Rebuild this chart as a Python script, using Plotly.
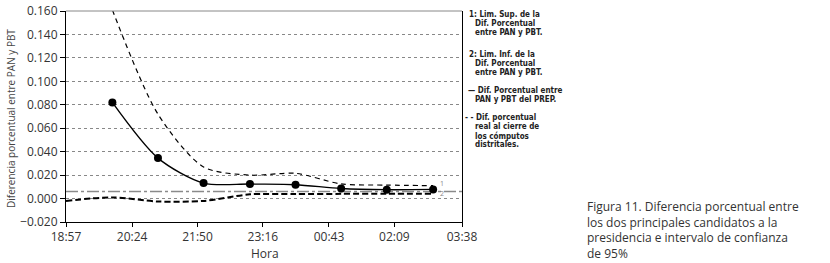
import plotly.graph_objects as go

# ---------------- data ----------------
prep_times = ["2006-07-02 19:58", "2006-07-02 20:58", "2006-07-02 21:58", "2006-07-02 22:59",
              "2006-07-02 23:59", "2006-07-03 00:59", "2006-07-03 01:59", "2006-07-03 03:00"]
prep_diff = [0.082, 0.0345, 0.0132, 0.0124, 0.0118, 0.0086, 0.0076, 0.0078]

upper_times = prep_times
upper_lim = [0.161, 0.072, 0.027, 0.020, 0.0215, 0.0125, 0.0115, 0.011]

lower_times = ["2006-07-02 18:57"] + prep_times
lower_lim = [-0.002, 0.001, -0.0025, -0.002, 0.0036, 0.0038, 0.0040, 0.0040, 0.0040]

real_diff = 0.006

x_ticks = ["2006-07-02 18:57", "2006-07-02 20:24", "2006-07-02 21:50", "2006-07-02 23:16",
           "2006-07-03 00:43", "2006-07-03 02:09", "2006-07-03 03:38"]
x_tick_text = ["18:57", "20:24", "21:50", "23:16", "00:43", "02:09", "03:38"]
y_ticks = [-0.02, 0.0, 0.02, 0.04, 0.06, 0.08, 0.10, 0.12, 0.14, 0.16]

legend_groups = [
    ["1: Lim. Sup. de la", "Dif. Porcentual", "entre PAN y PBT."],
    ["2: Lim. Inf. de la", "Dif. Porcentual", "entre PAN y PBT."],
    ["\u2014 Dif. Porcentual entre", "PAN y PBT del PREP."],
    ["- - Dif. porcentual", "real al cierre de", "los cómputos", "distritales."],
]
caption = ["Figura 11. Diferencia porcentual entre", "los dos principales candidatos a la",
           "presidencia e intervalo de confianza", "de 95%"]

# ---------------- layout geometry ----------------
W, H = 830, 263
L, R, T, B = 66, 368, 11, 41
PW, PH = W - L - R, H - T - B


def px(xp):
    return (xp - L) / PW


def py(yp):
    return (H - B - yp) / PH


FONT = "Open Sans, Lato, DejaVu Sans, sans-serif"
NARROW = "Liberation Sans Narrow, DejaVu Sans Condensed, Liberation Sans, sans-serif"

fig = go.Figure()

fig.add_trace(go.Scatter(
    x=[x_ticks[0], x_ticks[-1]], y=[real_diff, real_diff], mode="lines",
    line=dict(color="#8a8a8a", width=1.5, dash="12px,3px,3px,3px"),
    showlegend=False, hoverinfo="skip"))

fig.add_trace(go.Scatter(
    x=lower_times, y=lower_lim, mode="lines",
    line=dict(color="black", width=2, dash="6px,3px", shape="spline", smoothing=0.8),
    showlegend=False))

fig.add_trace(go.Scatter(
    x=upper_times, y=upper_lim, mode="lines",
    line=dict(color="black", width=1.2, dash="5px,4px", shape="spline", smoothing=0.8),
    showlegend=False))

fig.add_trace(go.Scatter(
    x=prep_times, y=prep_diff, mode="lines+markers",
    line=dict(color="black", width=1.4, shape="spline", smoothing=0.8),
    marker=dict(color="black", size=8),
    showlegend=False, cliponaxis=True))

annotations = []
# y-axis title
annotations.append(dict(
    text="Diferencia porcentual entre PAN y PBT", x=px(11), y=py(119), xref="paper", yref="paper",
    textangle=-90, showarrow=False, xanchor="center", yanchor="middle",
    font=dict(family=FONT, size=10, color="#444")))
# x-axis title
annotations.append(dict(
    text="Hora", x=px(265), y=py(253), xref="paper", yref="paper", showarrow=False,
    xanchor="center", yanchor="middle", font=dict(family=FONT, size=12, color="#333")))

# legend text on the right
line_y = [[14, 23.3, 32.3], [54, 63.3, 72.3], [90, 99.3], [117.3, 126.6, 135.6, 144.8]]
for gi, group in enumerate(legend_groups):
    for li, txt in enumerate(group):
        if li == 0:
            xs = 462.5 if gi == 3 else (466 if gi == 2 else 466.5)
        else:
            xs = 472.5
        annotations.append(dict(
            text="<b>" + txt + "</b>", x=px(xs), y=py(line_y[gi][li]), xref="paper", yref="paper",
            showarrow=False, xanchor="left", yanchor="middle",
            font=dict(family=NARROW, size=8, color="#222")))

# small labels 1 and 2
annotations.append(dict(text="1", x=px(442), y=py(183), xref="paper", yref="paper", showarrow=False,
                        xanchor="center", yanchor="middle", font=dict(family=FONT, size=7, color="#888")))
annotations.append(dict(text="2", x=px(442), y=py(193), xref="paper", yref="paper", showarrow=False,
                        xanchor="center", yanchor="middle", font=dict(family=FONT, size=7, color="#888")))

# caption as one multi-line text block
annotations.append(dict(
    text="<br>".join(caption), x=px(585), y=py(230), xref="paper", yref="paper", showarrow=False,
    xanchor="left", yanchor="middle", align="left",
    font=dict(family="Open Sans, Lato, sans-serif", size=12, color="#333")))

fig.update_layout(
    width=W, height=H, margin=dict(l=L, r=R, t=T, b=B, autoexpand=False),
    paper_bgcolor="white", plot_bgcolor="white",
    annotations=annotations,
    shapes=[dict(type="line", xref="paper", yref="paper", x0=0, x1=1, y0=1, y1=1,
                 line=dict(color="#888", width=1))],
    xaxis=dict(type="date", range=[x_ticks[0], x_ticks[-1]], tickvals=x_ticks, ticktext=x_tick_text,
               showgrid=False, showline=True, linecolor="black", linewidth=1,
               ticks="outside", ticklen=4, tickcolor="black", automargin=False,
               tickfont=dict(family=FONT, size=12, color="#333")),
    yaxis=dict(range=[-0.02, 0.16], tickvals=y_ticks, tickformat=".3f",
               showgrid=True, gridcolor="#888", griddash="dot", gridwidth=1, zeroline=False,
               showline=True, linecolor="black", linewidth=1, mirror=True,
               ticks="outside", ticklen=5, tickcolor="black", automargin=False,
               tickfont=dict(family=FONT, size=12, color="#333")),
)

fig.write_html("out.html", config={"displayModeBar": False},
               post_script="document.body.style.margin='0';document.body.style.overflow='hidden';")
